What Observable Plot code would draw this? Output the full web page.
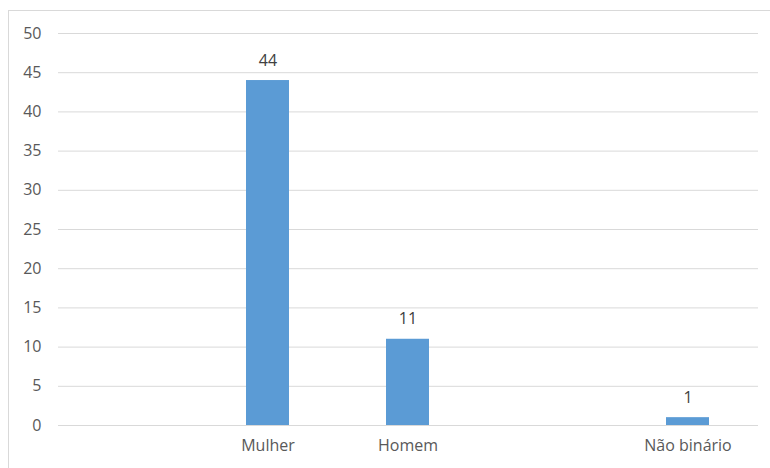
<!DOCTYPE html>
<html><head><meta charset="utf-8">
<script src="https://cdn.jsdelivr.net/npm/d3@7"></script>
<script src="https://cdn.jsdelivr.net/npm/@observablehq/plot@0.6"></script>
<style>
body{margin:0;background:#fff;overflow:hidden;}
#frame{position:absolute;left:8px;top:10px;width:800px;height:500px;border:1px solid #d9d9d9;box-sizing:border-box;}
#chart{position:absolute;left:0;top:0;}
</style></head>
<body>
<div id="frame"></div>
<div id="chart"></div>
<script>
const categories = ["\u00a0", "Mulher", "Homem", "\u00a0\u00a0", "Não binário"];
const values = [null, 44, 11, null, 1];
const yTicks = [0, 5, 10, 15, 20, 25, 30, 35, 40, 45, 50];

const data = categories.map((c, i) => ({cat: c, v: values[i]})).filter(d => d.v != null);

const chart = Plot.plot({
  width: 770, height: 468,
  marginLeft: 58, marginRight: 12, marginTop: 33, marginBottom: 43,
  style: {fontFamily: "'Open Sans', 'Noto Sans', sans-serif", fontSize: "16px", color: "#595959", background: "transparent"},
  x: {domain: categories, paddingInner: 0.69, paddingOuter: 0.345, label: null},
  y: {domain: [0, 50], label: null},
  marks: [
    Plot.gridY(yTicks, {stroke: "#d9d9d9", strokeOpacity: 1, strokeWidth: 1}),
    Plot.barY(data, {x: "cat", y: "v", fill: "#5b9bd5"}),
    Plot.text(data, {x: "cat", y: "v", text: d => String(d.v), dy: -20, fill: "#404040", fontSize: 16}),
    Plot.axisY(yTicks, {tickSize: 0, tickPadding: 17, fontSize: 16, fill: "#595959"}),
    Plot.axisX({tickSize: 0, tickPadding: 14, fontSize: 16, fill: "#595959"})
  ]
});
document.getElementById("chart").append(chart);
</script>
</body></html>
